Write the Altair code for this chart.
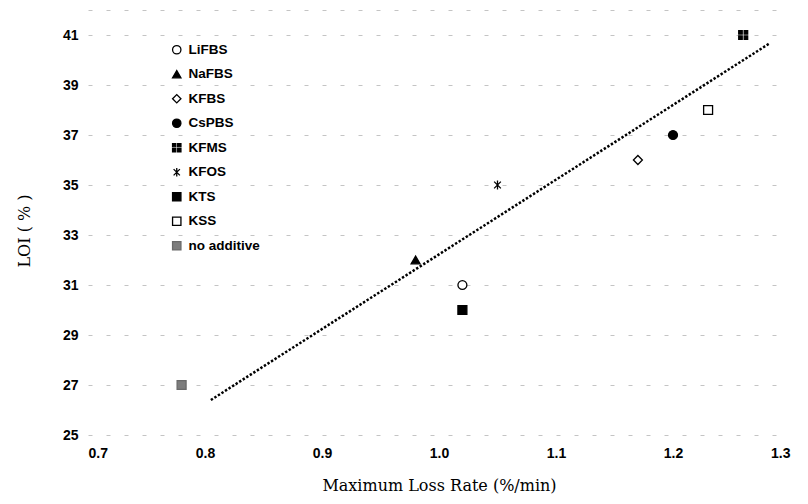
import altair as alt
import pandas as pd

series = ["LiFBS", "NaFBS", "KFBS", "CsPBS", "KFMS", "KFOS", "KTS", "KSS", "no additive"]
rate = [1.02, 0.98, 1.17, 1.20, 1.26, 1.05, 1.02, 1.23, 0.78]
loi = [31, 32, 36, 37, 41, 35, 30, 38, 27]

trend_x = [0.805, 1.283]
trend_y = [26.4, 40.68]

x_ticks = [0.7, 0.8, 0.9, 1.0, 1.1, 1.2, 1.3]
y_ticks = [25, 27, 29, 31, 33, 35, 37, 39, 41, 42]

shapes = [
    "circle",
    "triangle-up",
    "diamond",
    "circle",
    "M-1,-1H-0.22V-0.22H-1Z M0.22,-1H1V-0.22H0.22Z M-1,0.22H-0.22V1H-1Z M0.22,0.22H1V1H0.22Z",
    "M-0.75,-0.75L0.75,0.75M-0.75,0.75L0.75,-0.75M0,-1L0,1",
    "square",
    "square",
    "square",
]
fills = ["white", "black", "white", "black", "black", "transparent", "black", "white", "#7d7d7d"]
strokes = ["black", "black", "black", "black", "black", "black", "black", "black", "#6a6a6a"]

pts = pd.DataFrame({"series": series, "rate": rate, "loi": loi})
trend = pd.DataFrame({"rate": trend_x, "loi": trend_y})

W, H = 702, 425
LEFT, TOP = 80, 2

xscale = alt.Scale(domain=[0.7, 1.3], nice=False, zero=False)
yscale = alt.Scale(domain=[25, 42], nice=False, zero=False)

leg = alt.Legend(
    title=None, orient="none", legendX=82, legendY=33,
    labelFont="Liberation Sans", labelFontWeight="bold", labelFontSize=13.5,
    labelColor="black", symbolSize=70, symbolStrokeWidth=1.3,
    rowPadding=9.5, labelOffset=5, padding=0,
)

xaxis = alt.Axis(
    values=x_ticks, format=".1f", grid=False, domain=False, ticks=False,
    labelFont="Liberation Sans", labelFontWeight="bold", labelFontSize=14,
    labelColor="black", labelPadding=11,
    title="Maximum Loss Rate (%/min)", titleFont="DejaVu Serif",
    titleFontWeight="normal", titleFontSize=16, titleColor="black", titlePadding=17,
)
yaxis = alt.Axis(
    values=y_ticks, labelExpr="datum.value == 42 ? '' : datum.label",
    grid=True, gridColor="#c4c4c4", gridDash=[4, 14], gridWidth=1,
    domain=False, ticks=False,
    labelFont="Liberation Sans", labelFontWeight="bold", labelFontSize=14,
    labelColor="black", labelPadding=10,
    title="LOI ( % )", titleFont="DejaVu Serif", titleFontWeight="normal",
    titleFontSize=16, titleColor="black", titleAngle=270,
    titleX=-64, titleY=H / 2 + 8, titleAlign="center", titleBaseline="middle",
)

line = alt.Chart(trend).mark_line(
    color="black", strokeWidth=2.5, strokeDash=[2.4, 1.8], strokeCap="butt"
).encode(
    x=alt.X("rate:Q", scale=xscale, axis=xaxis),
    y=alt.Y("loi:Q", scale=yscale, axis=yaxis),
)

points = alt.Chart(pts).mark_point(size=80, strokeWidth=1.3, opacity=1, filled=False).encode(
    x=alt.X("rate:Q", scale=xscale),
    y=alt.Y("loi:Q", scale=yscale),
    shape=alt.Shape("series:N", scale=alt.Scale(domain=series, range=shapes), legend=leg),
    fill=alt.Fill("series:N", scale=alt.Scale(domain=series, range=fills), legend=leg),
    stroke=alt.Stroke("series:N", scale=alt.Scale(domain=series, range=strokes), legend=leg),
)

chart = alt.layer(line, points).properties(
    width=W, height=H,
    autosize=alt.AutoSizeParams(type="none"),
    padding={"left": LEFT, "top": TOP, "right": 10, "bottom": 61},
    background="white",
).configure_view(stroke=None)

chart.save("out.html", embed_options={"renderer": "svg", "actions": False})
